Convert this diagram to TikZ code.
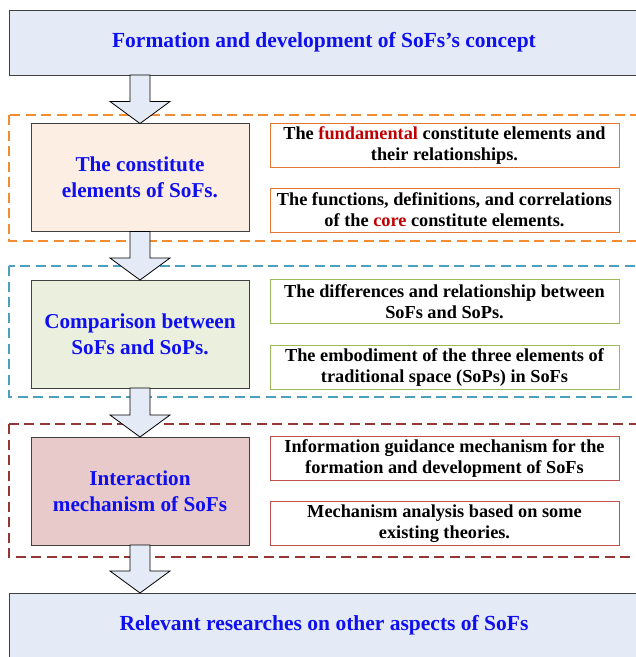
\documentclass[tikz,border=0pt]{standalone}
\usepackage{fontspec}
\setmainfont{Liberation Serif}
\usetikzlibrary{calc}

\definecolor{bluetext}{RGB}{16,16,238}
\definecolor{redword}{RGB}{192,0,0}
\definecolor{endfill}{RGB}{228,235,246}
\definecolor{peach}{RGB}{253,238,227}
\definecolor{sage}{RGB}{235,239,222}
\definecolor{rose}{RGB}{232,202,202}
\definecolor{dashorange}{RGB}{242,140,50}
\definecolor{dashteal}{RGB}{75,160,190}
\definecolor{dashred}{RGB}{148,54,52}
\definecolor{lineorange}{RGB}{228,120,50}
\definecolor{linegreen}{RGB}{155,187,89}
\definecolor{linered}{RGB}{192,80,77}
\definecolor{edgegray}{RGB}{64,64,64}

% block arrow from point #1 (top of shaft) down to tip #2
\newcommand{\flowarrow}[2]{%
  \path let \p1=(#1), \p2=(#2) in
    [draw=black, line width=0.8pt, fill=endfill, line join=miter]
    (\x1-10pt,\y1) -- (\x1+10pt,\y1) -- (\x1+10pt,\y2+22pt) -- (\x1+30pt,\y2+22pt)
    -- (\x2,\y2) -- (\x1-30pt,\y2+22pt) -- (\x1-10pt,\y2+22pt) -- cycle;}

\begin{document}
\begin{tikzpicture}[x=1pt,y=-1pt,
  every node/.style={inner sep=0pt, outer sep=0pt},
  endbox/.style={rectangle, draw=edgegray, line width=1pt, fill=endfill,
    minimum width=630pt, minimum height=65pt, text=bluetext,
    font=\fontsize{21.5}{25}\selectfont\bfseries},
  stagebox/.style={rectangle, draw=edgegray, line width=1pt, fill=#1,
    minimum width=218pt, minimum height=108pt, align=center, text=bluetext,
    font=\fontsize{21.2}{25.7}\selectfont\bfseries},
  detailbox/.style={rectangle, draw=#1, line width=1pt, fill=white,
    minimum width=349pt, minimum height=44pt, align=center, text=black,
    font=\fontsize{18.3}{21}\selectfont\bfseries},
  groupframe/.style={draw=#1, line width=1.4pt, dash pattern=on 10pt off 5.5pt}]

\useasboundingbox (0,0) rectangle (636,657);
\clip (0,0) rectangle (636,657);

% dashed group frames
\draw[groupframe=dashorange] (9,115) rectangle (648,241);
\draw[groupframe=dashteal] (9,266) rectangle (648,397);
\draw[groupframe=dashred] (9,424) rectangle (648,557);

% start and end boxes
\node[endbox] (top) at (324,42.5) {Formation and development of SoFs's concept};
\node[endbox] (bottom) at (324,625.5) {Relevant researches on other aspects of SoFs};

% stage boxes
\node[stagebox=peach] (elem) at (140,177.5) {The constitute\\elements of SoFs.};
\node[stagebox=sage] (comp) at (140,334) {Comparison between\\SoFs and SoPs.};
\node[stagebox=rose] (inter) at (140,491) {Interaction\\mechanism of SoFs};

% detail boxes
\node[detailbox=lineorange] (elemA) at (444.5,145)
  {The {\color{redword}fundamental} constitute elements and\\their relationships.};
\node[detailbox=lineorange] (elemB) at (444.5,210)
  {The functions, definitions, and correlations\\of the {\color{redword}core} constitute elements.};
\node[detailbox=linegreen] (compA) at (444.5,301.5)
  {The differences and relationship between\\SoFs and SoPs.};
\node[detailbox=linegreen] (compB) at (444.5,367)
  {The embodiment of the three elements of\\traditional space (SoPs) in SoFs};
\node[detailbox=linered] (interA) at (444.5,458.5)
  {Information guidance mechanism for the\\formation and development of SoFs};
\node[detailbox=linered] (interB) at (444.5,523.5)
  {Mechanism analysis based on some\\existing theories.};

% block arrows between the stages
\flowarrow{top.south -| elem.north}{elem.north}
\flowarrow{elem.south}{comp.north}
\flowarrow{comp.south}{inter.north}
\flowarrow{inter.south}{bottom.north -| inter.south}

\end{tikzpicture}
\end{document}
